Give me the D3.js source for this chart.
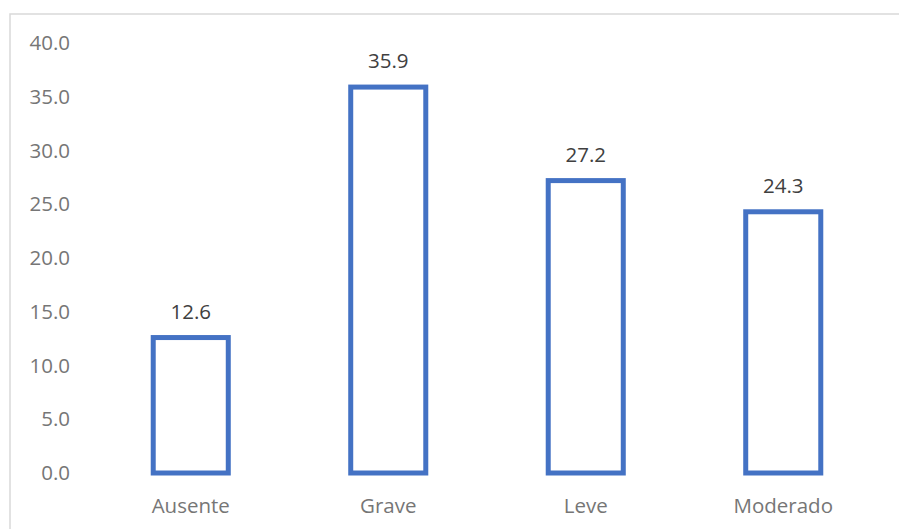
<!DOCTYPE html>
<html>
<head>
<meta charset="utf-8">
<script src="https://cdn.jsdelivr.net/npm/d3@7"></script>
<style>
  body { margin: 0; background: #fff; }
  svg { display: block; font-family: "Open Sans", sans-serif; }
</style>
</head>
<body>
<div id="chart"></div>
<script>
// data
const categories = ["Ausente", "Grave", "Leve", "Moderado"];
const values = [12.6, 35.9, 27.2, 24.3];
const yTicks = [0, 5, 10, 15, 20, 25, 30, 35, 40];

const width = 899, height = 529;
const margin = {top: 43, right: 17, bottom: 56, left: 92};

const svg = d3.select("#chart").append("svg")
    .attr("width", width)
    .attr("height", height);

// chart frame
svg.append("rect")
    .attr("x", 10)
    .attr("y", 14)
    .attr("width", width + 10)
    .attr("height", height + 10)
    .attr("fill", "none")
    .attr("stroke", "#d9d9d9")
    .attr("stroke-width", 1.5);

const x = d3.scaleBand()
    .domain(categories)
    .range([margin.left, width - margin.right])
    .paddingInner(0.62)
    .paddingOuter(0.31);

const y = d3.scaleLinear()
    .domain([0, 40])
    .range([height - margin.bottom, margin.top]);

// y axis labels (no line, no ticks)
const yAxis = svg.append("g")
    .attr("transform", `translate(${70},0)`)
    .call(d3.axisLeft(y).tickValues(yTicks).tickFormat(d3.format(".1f")).tickSize(0).tickPadding(0));
yAxis.select(".domain").remove();
yAxis.selectAll("text")
    .attr("fill", "#767676")
    .style("font-size", "20.5px")
    .style("font-family", "'Open Sans', sans-serif");

// x axis labels
const xAxis = svg.append("g")
    .attr("transform", `translate(0,${y(0)})`)
    .call(d3.axisBottom(x).tickSize(0).tickPadding(25));
xAxis.select(".domain").remove();
xAxis.selectAll("text")
    .attr("fill", "#767676")
    .style("font-size", "20.5px")
    .style("font-family", "'Open Sans', sans-serif");

// bars: outline only
svg.selectAll(".bar")
    .data(values)
    .enter()
    .append("rect")
    .attr("class", "bar")
    .attr("x", (d, i) => x(categories[i]))
    .attr("y", d => y(d))
    .attr("width", x.bandwidth())
    .attr("height", d => y(0) - y(d))
    .attr("fill", "#fff")
    .attr("stroke", "#4472c4")
    .attr("stroke-width", 5);

// value labels
svg.selectAll(".label")
    .data(values)
    .enter()
    .append("text")
    .attr("class", "label")
    .attr("x", (d, i) => x(categories[i]) + x.bandwidth() / 2)
    .attr("y", d => y(d) - 19)
    .attr("text-anchor", "middle")
    .attr("fill", "#404040")
    .style("font-size", "20.5px")
    .text(d => d3.format(".1f")(d));
</script>
</body>
</html>
